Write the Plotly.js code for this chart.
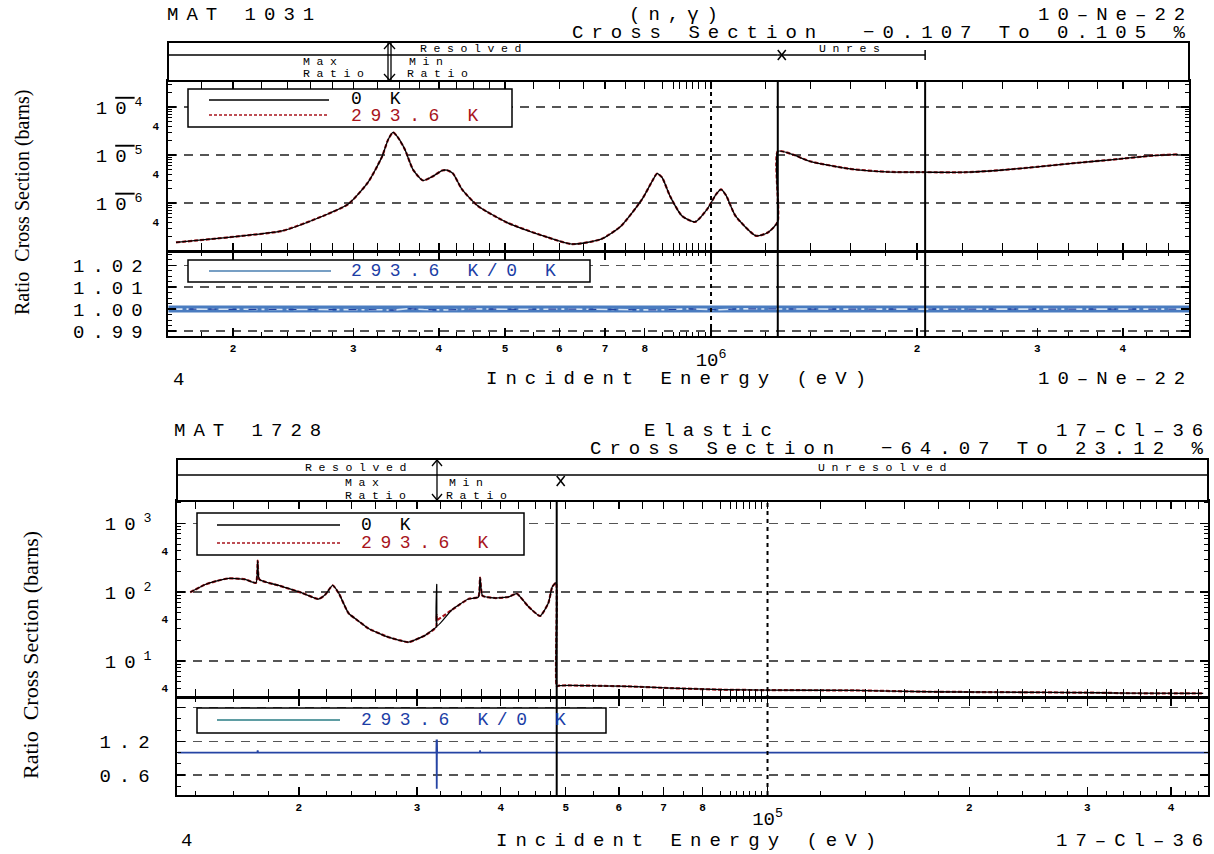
<!DOCTYPE html>
<html><head><meta charset="utf-8">
<script src="https://cdn.plot.ly/plotly-3.0.1.min.js"></script>
<style>
html,body{margin:0;padding:0;background:#fff;}
#chart{width:1214px;height:854px;}
svg text[style*="font-size: 19px"]{letter-spacing:8px;}
svg text[style*="font-size: 18px"]{letter-spacing:8.6px;}
svg text[style*="font-size: 11.5px"]{letter-spacing:6.6px;}
</style></head><body><div id="chart"></div><script>
// ---------------- DATA: MAT 1031 (n,gamma) 10-Ne-22 ----------------
const neEnergy = [1.651e5,1.851e5,2.063e5,2.360e5,2.709e5,2.946e5,3.151e5,3.304e5,3.372e5,3.429e5,3.487e5,3.569e5,3.667e5,3.792e5,3.923e5,4.043e5,4.111e5,4.195e5,4.325e5,4.564e5,5.033e5,5.777e5,6.264e5,6.906e5,7.388e5,7.927e5,8.198e5,8.339e5,8.481e5,8.711e5,9.071e5,9.476e5,9.867e5,1.017e6,1.034e6,1.052e6,1.086e6,1.164e6,1.211e6,1.251e6,1.252e6,1.318e6,1.395e6,1.597e6,1.808e6,2.056e6,2.367e6,2.646e6,2.997e6,3.428e6,3.870e6,4.428e6,4.816e6];
const neXs0K = [1.509e-7,1.765e-7,2.067e-7,2.625e-7,5.374e-7,9.397e-7,2.689e-6,9.31e-6,2.098e-5,2.972e-5,2.307e-5,1.300e-5,5.003e-6,2.958e-6,3.633e-6,4.769e-6,4.838e-6,4.132e-6,1.924e-6,8.666e-7,3.921e-7,1.915e-7,1.391e-7,1.765e-7,3.332e-7,1.193e-6,2.820e-6,4.132e-6,3.413e-6,1.397e-6,5.374e-7,4.034e-7,7.4e-7,1.516e-6,1.924e-6,1.445e-6,5.374e-7,2.067e-7,2.431e-7,4.034e-7,1.199e-5,1.024e-5,7.436e-6,5.171e-6,4.482e-6,4.397e-6,4.397e-6,4.838e-6,5.69e-6,6.89e-6,8.06e-6,9.76e-6,1.039e-5];
const neXs293K = [1.509e-7,1.765e-7,2.067e-7,2.625e-7,5.374e-7,9.397e-7,2.689e-6,9.31e-6,2.098e-5,2.970e-5,2.307e-5,1.300e-5,5.003e-6,2.958e-6,3.633e-6,4.769e-6,4.838e-6,4.132e-6,1.924e-6,8.666e-7,3.921e-7,1.915e-7,1.391e-7,1.765e-7,3.332e-7,1.193e-6,2.820e-6,4.132e-6,3.413e-6,1.397e-6,5.374e-7,4.034e-7,7.4e-7,1.516e-6,1.924e-6,1.445e-6,5.374e-7,2.067e-7,2.431e-7,4.034e-7,1.199e-5,1.024e-5,7.436e-6,5.171e-6,4.482e-6,4.397e-6,4.397e-6,4.838e-6,5.69e-6,6.89e-6,8.06e-6,9.76e-6,1.039e-5];
const neRatioEnergy = [1.61e5,2.2e5,2.9e5,3.3e5,3.43e5,3.6e5,3.8e5,4.1e5,4.5e5,5.2e5,6.3e5,7.4e5,8.3e5,9.3e5,1.03e6,1.1e6,1.25e6,1.5e6,2.06e6,3.0e6,3.6e6,4.2e6,5.0e6];
const neRatio = [1.0000,1.0000,0.9999,0.9997,0.9995,1.0002,0.9998,0.9996,1.0001,0.9999,1.0000,0.9998,0.9996,1.0001,0.9997,1.0001,1.0000,1.0000,1.0000,1.0000,0.9997,1.0000,1.0000];
const neResolvedEnd = 1.252e6, neUnresolvedEnd = 2.056e6, neDecade = 1e6;
const neXRange = [5.2061, 6.6988];
const neTickVals = [2e5,3e5,4e5,5e5,6e5,7e5,8e5,1e6,2e6,3e6,4e6];
const neTickText = ['2','3','4','5','6','7','8','<br><span style="font-size:19px;font-weight:normal">10<sup>6</sup></span>','2','3','4'];
const neYTickVals = [1e-6,1e-5,1e-4];
const neYTickText = ['1<span style="text-decoration:overline">0</span><sup>6</sup>','1<span style="text-decoration:overline">0</span><sup>5</sup>','1<span style="text-decoration:overline">0</span><sup>4</sup>'];
const neYMinorLabelVals = [4e-7,4e-6,4e-5];
const neRatioTickVals = [0.99,1.00,1.01,1.02];
const neRatioTickText = ['0.99','1.00','1.01','1.02'];

// ---------------- DATA: MAT 1728 Elastic 17-Cl-36 ----------------
const clEnergy = [1.377e4,1.450e4,1.510e4,1.572e4,1.663e4,1.726e4,1.736e4,1.746e4,1.866e4,2.021e4,2.140e4,2.189e4,2.246e4,2.292e4,2.372e4,2.455e4,2.540e4,2.720e4,2.815e4,2.914e4,3.085e4,3.205e4,3.209e4,3.211e4,3.213e4,3.381e4,3.580e4,3.705e4,3.726e4,3.757e4,3.922e4,4.107e4,4.226e4,4.399e4,4.578e4,4.711e4,4.775e4,4.837e4,4.848e4,4.885e4,6.184e4,7.171e4,8.553e4,1.0e5,1.351e5,1.738e5,2.199e5,3.136e5,3.424e5,4.465e5];
const clXs0K = [99.3,129,145.5,158.5,153,136.8,285.9,153,124.8,97.3,79.3,91.8,124.8,97.3,49.2,37.8,29.5,22.1,20.1,18.7,23.5,31.0,31.7,129,32.0,55.0,79.3,84.9,162.3,88.7,82.0,84.9,95.0,61.6,44.9,69.2,119.4,136.8,4.26,4.37,4.26,4.02,3.81,3.76,3.72,3.56,3.51,3.44,3.39,3.36];
const clXs293K = [99.3,129,145.5,158.5,153,136.8,285.9,153,124.8,97.3,79.3,91.8,124.8,97.3,49.2,37.8,29.5,22.1,20.1,18.7,23.5,31.0,39.0,46.4,39.4,55.0,79.3,84.9,162.3,88.7,82.0,84.9,95.0,61.6,44.9,69.2,119.4,136.8,4.26,4.37,4.26,4.02,3.81,3.76,3.72,3.56,3.51,3.44,3.39,3.36];
const clRatioEnergy = [1.32e4,1.734e4,1.736e4,1.738e4,3.207e4,3.209e4,3.211e4,3.213e4,3.215e4,3.724e4,3.726e4,3.728e4,4.54e5];
const clRatio = [1.0,1.0,1.04,1.0,1.0,1.2312,0.3593,1.2312,1.0,1.0,1.04,1.0,1.0];
const clResolvedEnd = 4.848e4, clDecade = 1e5;
const clXRange = [4.1192, 5.657];
const clTickVals = [2e4,3e4,4e4,5e4,6e4,7e4,8e4,1e5,2e5,3e5,4e5];
const clTickText = ['2','3','4','5','6','7','8','<br><span style="font-size:19px;font-weight:normal">10<sup>5</sup></span>','2','3','4'];
const clYTickVals = [1e1,1e2,1e3];
const clYTickText = ['10<sup>1</sup>','10<sup>2</sup>','10<sup>3</sup>'];
const clYMinorLabelVals = [4,40,400];
const clRatioTickVals = [0.6,1.2,1.8];
const clRatioTickText = ['0.6','1.2',''];

// ---------------- STYLE / LAYOUT ----------------
const W = 1214, H = 854;
const px = v => v / W, py = v => 1 - v / H;
const MONO = '"Liberation Mono", "DejaVu Sans Mono", monospace';
const SERIF = '"Liberation Serif", "DejaVu Serif", serif';
const RED = '#a8141c', BLUE = '#1c3ea6';

function steps(a, b, s, scale) { const out = []; for (let v = a; v <= b + 1e-9; v += s) out.push(+(v * scale).toPrecision(6)); return out; }
function logMinor(e0, e1) { let out = []; for (let e = e0; e <= e1; e++) out = out.concat(steps(2, 9, 1, Math.pow(10, e))); return out; }

const neXMinor = [].concat(steps(1.6, 3, 0.2, 1e5), steps(3.25, 5, 0.25, 1e5), steps(5.5, 8.5, 0.5, 1e5), steps(8.8, 9.8, 0.2, 1e5), steps(1.2, 2, 0.2, 1e6), [2.33e6, 2.67e6, 3.33e6, 3.67e6, 4.33e6, 4.67e6]);
const clXMinor = [].concat(steps(1.4, 3, 0.2, 1e4), steps(3.25, 5, 0.25, 1e4), steps(5.5, 8.5, 0.5, 1e4), steps(8.8, 9.8, 0.2, 1e4), steps(1.2, 4.4, 0.2, 1e5));

const axBase = {
  showline: true, linecolor: '#000', linewidth: 1.6, mirror: 'allticks',
  ticks: 'inside', ticklen: 8, tickwidth: 1.5, tickcolor: '#000',
  zeroline: false, showgrid: false, tickmode: 'array',
  tickfont: { family: MONO, size: 11, color: '#000', weight: 'bold' }
};
const gridStyle = { showgrid: true, gridcolor: '#555', gridwidth: 1.5, griddash: '9px,7px' };
function minorArr(vals) { return { tickmode: 'array', tickvals: vals, ticks: 'inside', ticklen: 4, tickwidth: 1, tickcolor: '#000' }; }
const bigTick = { family: MONO, size: 19, color: '#000' };
const smallLab = { family: MONO, size: 11, color: '#000', weight: 'bold' };

const topX = [px(168), px(1189)], topMainY = [py(251), py(81)], topRatioY = [py(336), py(252)];
const botX = [px(177), px(1208)], botMainY = [py(697), py(501)], botRatioY = [py(795), py(698)];

const layout = {
  width: W, height: H, margin: { l: 0, r: 0, t: 0, b: 0 },
  paper_bgcolor: '#fff', plot_bgcolor: '#fff', showlegend: false,
  font: { family: MONO, size: 11, color: '#000' },
  xaxis: Object.assign({}, axBase, { type: 'log', range: neXRange, domain: topX, anchor: 'y', tickvals: neTickVals, showticklabels: false, minor: minorArr(neXMinor) }),
  xaxis2: Object.assign({}, axBase, { type: 'log', range: neXRange, domain: topX, anchor: 'y2', tickvals: neTickVals, ticktext: neTickText, tickangle: 0, ticklabelstandoff: 1, minor: minorArr(neXMinor) }),
  yaxis: Object.assign({}, axBase, gridStyle, { type: 'log', range: [-7, -3.454], domain: topMainY, anchor: 'x', tickvals: neYTickVals, ticktext: neYTickText, tickfont: bigTick, ticklabelstandoff: 12, minor: minorArr(logMinor(-7, -4)) }),
  yaxis5: { type: 'log', range: [-7, -3.454], overlaying: 'y', anchor: 'x', side: 'left', showline: false, showgrid: false, zeroline: false, ticks: '', tickmode: 'array', tickvals: neYMinorLabelVals, ticktext: ['4', '4', '4'], tickfont: smallLab, ticklabelstandoff: 8 },
  yaxis2: Object.assign({}, axBase, gridStyle, { range: [0.9877, 1.0261], domain: topRatioY, anchor: 'x2', tickvals: neRatioTickVals, ticktext: neRatioTickText, tickfont: bigTick, ticklabelstandoff: 12, minor: { dtick: 0.0025, ticks: 'inside', ticklen: 4, tickwidth: 1, tickcolor: '#000' } }),

  xaxis3: Object.assign({}, axBase, { type: 'log', range: clXRange, domain: botX, anchor: 'y3', tickvals: clTickVals, showticklabels: false, minor: minorArr(clXMinor) }),
  xaxis4: Object.assign({}, axBase, { type: 'log', range: clXRange, domain: botX, anchor: 'y4', tickvals: clTickVals, ticktext: clTickText, tickangle: 0, ticklabelstandoff: 1, minor: minorArr(clXMinor) }),
  yaxis3: Object.assign({}, axBase, gridStyle, { type: 'log', range: [0.475, 3.324], domain: botMainY, anchor: 'x3', tickvals: clYTickVals, ticktext: clYTickText, tickfont: bigTick, ticklabelstandoff: 12, minor: minorArr(logMinor(0, 3)) }),
  yaxis6: { type: 'log', range: [0.475, 3.324], overlaying: 'y3', anchor: 'x3', side: 'left', showline: false, showgrid: false, zeroline: false, ticks: '', tickmode: 'array', tickvals: clYMinorLabelVals, ticktext: ['4', '4', '4'], tickfont: smallLab, ticklabelstandoff: 8 },
  yaxis4: Object.assign({}, axBase, gridStyle, { range: [0.249, 1.967], domain: botRatioY, anchor: 'x4', tickvals: clRatioTickVals, ticktext: clRatioTickText, tickfont: bigTick, ticklabelstandoff: 14, minor: { dtick: 0.2, ticks: 'inside', ticklen: 4, tickwidth: 1, tickcolor: '#000' } }),
  shapes: [], annotations: []
};

// ---------- shapes ----------
const S = layout.shapes;
function pl(x0, y0, x1, y1, w, color, dash) { S.push({ type: 'line', xref: 'paper', yref: 'paper', x0: px(x0), y0: py(y0), x1: px(x1), y1: py(y1), line: { color: color || '#000', width: w || 1.5, dash: dash || 'solid' } }); }
function prect(x0, y0, x1, y1, w) { S.push({ type: 'rect', xref: 'paper', yref: 'paper', x0: px(x0), y0: py(y1), x1: px(x1), y1: py(y0), line: { color: '#000', width: w || 1.5 }, fillcolor: '#fff' }); }
function dataHLine(xref, xa, xb, yPix) { S.push({ type: 'line', xref: xref, yref: 'paper', x0: xa, x1: xb, y0: py(yPix), y1: py(yPix), line: { color: '#000', width: 1.5 } }); }
function pixLine(xref, xv, yPix, dx0, dy0, dx1, dy1) { S.push({ type: 'line', xref: xref, xsizemode: 'pixel', xanchor: xv, x0: dx0, x1: dx1, yref: 'paper', ysizemode: 'pixel', yanchor: py(yPix), y0: dy0, y1: dy1, line: { color: '#000', width: 1.5 } }); }
function vLine(xref, xv, yTop, yBot, dash, w) { S.push({ type: 'line', xref: xref, yref: 'paper', x0: xv, x1: xv, y0: py(yBot), y1: py(yTop), line: { color: '#000', width: w, dash: dash } }); }

// legends (white boxes above the grid)
prect(188, 89, 512, 127); pl(209, 100, 329, 100, 1.3, '#000'); pl(209, 115, 329, 115, 1.3, RED, '3px,2px');
prect(188, 260, 590, 282); pl(209, 271, 331, 271, 1.3, '#4a7fb0');
prect(197, 513, 524, 555); pl(217, 525, 340, 525, 1.3, '#000'); pl(217, 543, 340, 543, 1.3, RED, '3px,2px');
prect(197, 708, 606, 733); pl(217, 720, 340, 720, 1.3, '#2a7d84');

// top header
prect(168, 42, 1189, 81, 2);
dataHLine('x', Math.pow(10, neXRange[0]), neResolvedEnd, 55);
dataHLine('x', neResolvedEnd, neUnresolvedEnd, 55);
pixLine('x', neResolvedEnd, 55, -8, -5, 8, 5); pixLine('x', neResolvedEnd, 55, -8, 5, 8, -5);
pixLine('x', neUnresolvedEnd, 55, -10, -5, 0, 0); pixLine('x', neUnresolvedEnd, 55, -10, 5, 0, 0);
pl(388, 43, 388, 80, 1.3); pl(391, 43, 391, 80, 1.3);
pl(384, 49, 389.5, 43, 1.3); pl(395, 49, 389.5, 43, 1.3);
pl(384, 74, 389.5, 80, 1.3); pl(395, 74, 389.5, 80, 1.3);
// top panel vertical markers
vLine('x', neDecade, 81, 336, '4px,4px', 2);
vLine('x', neResolvedEnd, 81, 336, 'solid', 2);
vLine('x', neUnresolvedEnd, 81, 336, 'solid', 2);

// bottom header
prect(177, 459, 1208, 501, 2);
dataHLine('x3', Math.pow(10, clXRange[0]), clResolvedEnd, 475);
dataHLine('x3', clResolvedEnd, Math.pow(10, clXRange[1]), 475);
pixLine('x3', clResolvedEnd, 481, -8, -5, 8, 5); pixLine('x3', clResolvedEnd, 481, -8, 5, 8, -5);
pl(437, 460, 437, 500, 1.3);
pl(432, 466, 437, 460, 1.3); pl(442, 466, 437, 460, 1.3);
pl(432, 494, 437, 500, 1.3); pl(442, 494, 437, 500, 1.3);
vLine('x3', clDecade, 501, 795, '4px,4px', 2);
vLine('x3', clResolvedEnd, 501, 795, 'solid', 2);

// ---------- annotations ----------
const A = layout.annotations;
function ann(text, x, y, xanchor, size, color, extra) {
  A.push(Object.assign({ text: text, xref: 'paper', yref: 'paper', x: px(x), y: py(y), xanchor: xanchor, yanchor: 'middle', showarrow: false, borderpad: 0, font: { family: MONO, size: size, color: color || '#000' } }, extra || {}));
}
ann('MAT 1031', 166, 15, 'left', 19);
ann('(n,\u03b3)', 677, 15, 'center', 19);
ann('10\u2013Ne\u201322', 1194, 15, 'right', 19);
ann('Cross Section  \u22120.107 To 0.105 %', 1194, 33, 'right', 19);
ann('Resolved', 419, 49, 'left', 11.5);
ann('Unres', 818, 49, 'left', 11.5);
ann('Max', 302, 62, 'left', 11.5); ann('Ratio', 302, 74, 'left', 11.5);
ann('Min', 408, 62, 'left', 11.5); ann('Ratio', 406, 74, 'left', 11.5);
ann('0 K', 350, 99, 'left', 18);
ann('293.6 K', 350, 116, 'left', 18, RED);
ann('293.6 K/0 K', 350, 271, 'left', 18, BLUE);
ann('4', 172, 380, 'left', 19);
ann('Incident Energy (eV)', 680, 379, 'center', 19);
ann('10\u2013Ne\u201322', 1194, 379, 'right', 19);
A.push({ text: 'Ratio  Cross Section (barns)', xref: 'paper', yref: 'paper', x: px(22), y: py(202), xanchor: 'center', yanchor: 'middle', textangle: -90, showarrow: false, font: { family: SERIF, size: 20, color: '#000' } });

ann('MAT 1728', 173, 431, 'left', 19);
ann('Elastic', 712, 431, 'center', 19);
ann('17\u2013Cl\u201336', 1212, 431, 'right', 19);
ann('Cross Section  \u221264.07 To 23.12 %', 1212, 449, 'right', 19);
ann('Resolved', 304, 467, 'left', 11.5);
ann('Unresolved', 885, 467, 'center', 11.5);
ann('Max', 344, 483, 'left', 11.5); ann('Ratio', 344, 495, 'left', 11.5);
ann('Min', 448, 483, 'left', 11.5); ann('Ratio', 445, 495, 'left', 11.5);
ann('0 K', 360, 525, 'left', 18);
ann('293.6 K', 360, 543, 'left', 18, RED);
ann('293.6 K/0 K', 360, 720, 'left', 18, BLUE);
ann('4', 180, 841, 'left', 19);
ann('Incident Energy (eV)', 690, 841, 'center', 19);
ann('17\u2013Cl\u201336', 1212, 841, 'right', 19);
A.push({ text: 'Ratio  Cross Section (barns)', xref: 'paper', yref: 'paper', x: px(30), y: py(655), xanchor: 'center', yanchor: 'middle', textangle: -90, showarrow: false, font: { family: SERIF, size: 22, color: '#000' } });

// ---------- traces ----------
const traces = [
  { x: neEnergy, y: neXs293K, xaxis: 'x', yaxis: 'y', mode: 'lines', name: '293.6 K', line: { color: RED, width: 2.2, dash: '4px,2px', shape: 'spline', smoothing: 0.6 } },
  { x: neEnergy, y: neXs0K, xaxis: 'x', yaxis: 'y', mode: 'lines', name: '0 K', line: { color: '#000', width: 1.3, shape: 'spline', smoothing: 0.6 } },
  { x: neRatioEnergy, y: neRatio, xaxis: 'x2', yaxis: 'y2', mode: 'lines', name: '293.6 K/0 K', line: { color: '#4a7cc0', width: 7 } },
  { x: neRatioEnergy, y: neRatio, xaxis: 'x2', yaxis: 'y2', mode: 'lines', name: '293.6 K/0 K', line: { color: '#d5e3f3', width: 1.6, dash: '14px,4px,3px,4px' } },
  { x: neRatioEnergy, y: neRatio, xaxis: 'x2', yaxis: 'y2', mode: 'lines', name: '293.6 K/0 K', line: { color: '#1f3f9f', width: 1.2, dash: '8px,12px' } },
  { x: clEnergy, y: clXs293K, xaxis: 'x3', yaxis: 'y3', mode: 'lines', name: '293.6 K', line: { color: RED, width: 2.2, dash: '4px,2px', shape: 'spline', smoothing: 0.5 } },
  { x: clEnergy, y: clXs0K, xaxis: 'x3', yaxis: 'y3', mode: 'lines', name: '0 K', line: { color: '#000', width: 1.3, shape: 'spline', smoothing: 0.5 } },
  { x: clRatioEnergy, y: clRatio, xaxis: 'x4', yaxis: 'y4', mode: 'lines', name: '293.6 K/0 K', line: { color: '#2544a4', width: 1.8 } },
  // carriers for the small "4" label axes
  { x: [neEnergy[0]], y: [neYMinorLabelVals[0]], xaxis: 'x', yaxis: 'y5', mode: 'markers', marker: { opacity: 0, size: 1 }, hoverinfo: 'skip' },
  { x: [clEnergy[0]], y: [clYMinorLabelVals[0]], xaxis: 'x3', yaxis: 'y6', mode: 'markers', marker: { opacity: 0, size: 1 }, hoverinfo: 'skip' }
];

Plotly.newPlot('chart', traces, layout, { displayModeBar: false, staticPlot: true });
</script></body></html>
